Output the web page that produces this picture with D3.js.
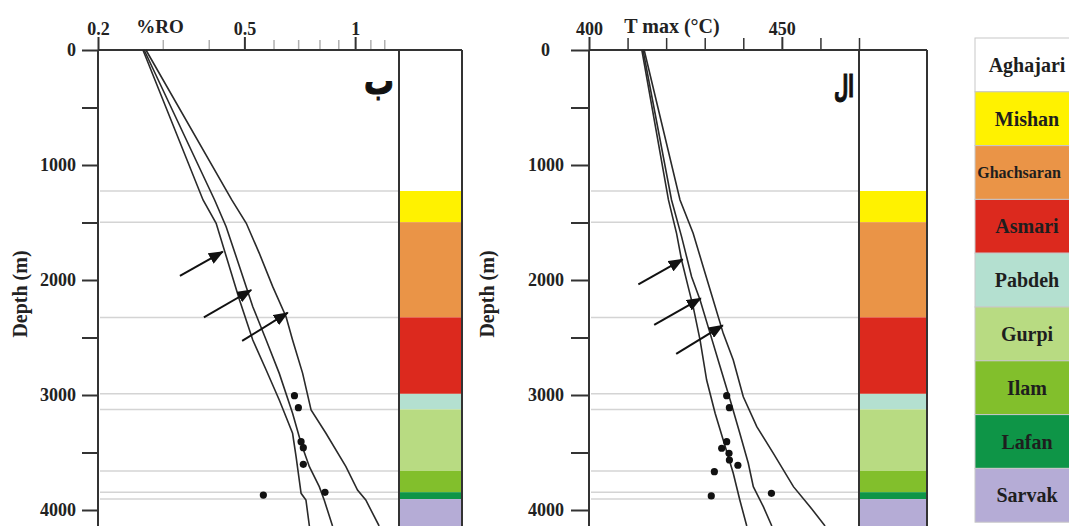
<!DOCTYPE html>
<html>
<head>
<meta charset="utf-8">
<script src="https://cdn.jsdelivr.net/npm/d3@7"></script>
<style>
    body { margin: 0; background: #fff; }
    svg { display: block; }
</style>
</head>
<body>
<svg id="chart" width="1069" height="526"></svg>
<script>

// depth axis
const depthTicks = [0, 500, 1000, 1500, 2000, 2500, 3000, 3500, 4000];
const depthLabels = [0, 1000, 2000, 3000, 4000];

// formations (top depth in m)
const formations = ["Aghajari", "Mishan", "Ghachsaran", "Asmari", "Pabdeh", "Gurpi", "Ilam", "Lafan", "Sarvak"];
const formationTops = [0, 1226, 1497, 2325, 2990, 3125, 3660, 3845, 3905];
const formationColors = ["#ffffff", "#fff200", "#ea9447", "#dc291e", "#b4e0d0", "#b8db82", "#82bf2c", "#0e9547", "#b5acd6"];

// %RO panel
const roMajorTicks = [0.2, 0.5, 1];
const roMinorTicks = [0.3, 0.4, 0.6, 0.7, 0.8, 0.9, 1.1, 1.2];

const roMinDepth = [0, 1304, 1507, 2174, 2522, 2783, 3043, 3333, 3536, 3855, 3913, 4139];
const roMin      = [0.265, 0.386, 0.419, 0.485, 0.527, 0.573, 0.622, 0.676, 0.691, 0.713, 0.735, 0.751];
const roMidDepth = [0, 1304, 1537, 1884, 2232, 2522, 2812, 3159, 3420, 3623, 3797, 3913, 4139];
const roMid      = [0.267, 0.415, 0.446, 0.485, 0.527, 0.573, 0.622, 0.676, 0.713, 0.751, 0.799, 0.824, 0.868];
const roMaxDepth = [0, 1304, 1507, 1768, 2058, 2319, 2522, 2812, 3130, 3333, 3623, 3826, 3913, 4139];
const roMax      = [0.270, 0.462, 0.506, 0.549, 0.597, 0.649, 0.676, 0.720, 0.759, 0.833, 0.944, 1.015, 1.069, 1.162];

const roSampleDepth = [3006, 3110, 3406, 3458, 3603, 3870, 3846];
const roSample      = [0.684, 0.701, 0.713, 0.723, 0.723, 0.563, 0.828];

// arrows: [depth, value]
const roArrowFrom = [[1965, 0.334], [2324, 0.388], [2530, 0.493]];
const roArrowTo   = [[1754, 0.437], [2087, 0.522], [2284, 0.656]];

// Tmax panel
const tmaxMajorTicks = [400, 450];
const tmaxMinorTicks = [410, 420, 430, 440, 460, 470];

const tmaxMinDepth = [0, 1304, 1594, 1826, 2058, 2232, 2522, 2870, 3159, 3391, 3681, 3913, 4139];
const tmaxMin      = [413.7, 420.6, 422.7, 424.0, 425.7, 427.0, 428.8, 430.5, 432.7, 434.8, 437.4, 439.1, 440.9];
const tmaxMidDepth = [0, 1304, 1623, 1971, 2174, 2464, 2754, 3043, 3333, 3594, 3797, 3971, 4139];
const tmaxMid      = [414.0, 421.4, 424.0, 426.6, 428.8, 431.4, 434.0, 436.6, 439.1, 441.3, 442.6, 445.2, 447.4];
const tmaxMaxDepth = [0, 1304, 1594, 1884, 2174, 2464, 2696, 3015, 3275, 3507, 3797, 3971, 4139];
const tmaxMax      = [414.3, 423.6, 427.0, 429.6, 432.2, 434.8, 437.4, 440.0, 443.5, 447.8, 453.0, 457.3, 461.2];

const tmaxSampleDepth = [3006, 3110, 3406, 3463, 3507, 3565, 3611, 3667, 3878, 3855];
const tmaxSample      = [435.7, 436.4, 435.7, 434.4, 436.3, 436.4, 438.6, 432.5, 431.7, 447.3];

const tmaxArrowFrom = [[2037, 412.8], [2391, 416.9], [2643, 422.6]];
const tmaxArrowTo   = [[1820, 424.3], [2159, 429.0], [2394, 434.7]];


const svg = d3.select("#chart");
const serif = "'Liberation Serif', 'Times New Roman', serif";
const ink = "#222";
const depthBottom = 4200;   // picture is cut off below 4000

const y = d3.scaleLinear().domain([0, 4000]).range([50, 510]);

// arrowhead
svg.append("defs").append("marker")
    .attr("id", "head")
    .attr("markerUnits", "userSpaceOnUse")
    .attr("viewBox", "0 0 15 12")
    .attr("markerWidth", 15)
    .attr("markerHeight", 12)
    .attr("refX", 14)
    .attr("refY", 6)
    .attr("orient", "auto")
    .append("path")
        .attr("d", "M0,0 L15,6 L0,12 Z")
        .attr("fill", "#111");


function zip(depths, vals) {
    return depths.map((d, i) => [d, vals[i]]);
}


function drawPanel(p) {
    const x = p.x;
    const [x0, x1] = x.range();
    const x2 = x1 + p.colWidth;
    const g = svg.append("g");

    // formation column
    const bottoms = formationTops.slice(1).concat([depthBottom]);
    g.selectAll(".col")
        .data(formations)
        .join("rect")
            .attr("x", x1)
            .attr("width", p.colWidth)
            .attr("y", (d, i) => y(formationTops[i]))
            .attr("height", (d, i) => y(bottoms[i]) - y(formationTops[i]))
            .attr("fill", (d, i) => formationColors[i]);

    // grey boundary lines through the plot
    g.selectAll(".bound")
        .data(formationTops.slice(1))
        .join("line")
            .attr("x1", x0 + 2)
            .attr("x2", x1)
            .attr("y1", d => y(d))
            .attr("y2", d => y(d))
            .attr("stroke", "#d4d4d4")
            .attr("stroke-width", 1.5);

    // y axis
    const yAxis = d3.axisLeft(y)
        .tickValues(depthTicks)
        .tickSize(p.yTickSize)
        .tickPadding(p.yTickPad)
        .tickFormat(d => depthLabels.includes(d) ? d : "");
    const ya = g.append("g")
        .attr("transform", `translate(${x0},0)`)
        .call(yAxis)
        .attr("font-family", serif)
        .attr("font-size", 18)
        .attr("font-weight", "bold");
    ya.select(".domain").remove();
    ya.selectAll("line").attr("stroke", "#333").attr("stroke-width", 2);
    ya.selectAll("text").attr("fill", ink);
    ya.selectAll(".tick").filter(d => d === 0).select("text").attr("dx", p.zeroShift);

    // top axis, minor ticks first
    const minor = g.append("g")
        .attr("transform", "translate(0,50)")
        .call(d3.axisTop(x).tickValues(p.minorTicks).tickSize(p.minorSize).tickFormat(""));
    minor.select(".domain").remove();
    minor.selectAll("line").attr("stroke", p.minorColor).attr("stroke-width", 1.5);

    const major = g.append("g")
        .attr("transform", "translate(0,50)")
        .call(d3.axisTop(x).tickValues(p.majorTicks).tickSize(13).tickPadding(2).tickFormat(d => d))
        .attr("font-family", serif)
        .attr("font-size", 18)
        .attr("font-weight", "bold");
    major.select(".domain").remove();
    major.selectAll("line").attr("stroke", "#333").attr("stroke-width", 2);
    major.selectAll("text").attr("fill", ink);

    // frame
    const frame = [
        [x0, 50, x2, 50],
        [x0, 50, x0, 530],
        [x1, 50, x1, 530],
        [x2, 50, x2, 530]
    ];
    g.selectAll(".frame")
        .data(frame)
        .join("line")
            .attr("x1", d => d[0]).attr("y1", d => d[1])
            .attr("x2", d => d[2]).attr("y2", d => d[3])
            .attr("stroke", "#333")
            .attr("stroke-width", 2);

    // curves
    const line = d3.line()
        .x(d => x(d[1]))
        .y(d => y(d[0]));

    g.selectAll(".curve")
        .data(p.curves)
        .join("path")
            .attr("d", line)
            .attr("fill", "none")
            .attr("stroke", "#2a2a2a")
            .attr("stroke-width", 1.6);

    // measured samples
    g.selectAll(".dot")
        .data(p.samples)
        .join("circle")
            .attr("cx", d => x(d[1]))
            .attr("cy", d => y(d[0]))
            .attr("r", 3.6)
            .attr("fill", "#111");

    // arrows pointing at the curves
    g.selectAll(".arrow")
        .data(p.arrowFrom)
        .join("line")
            .attr("x1", d => x(d[1]))
            .attr("y1", d => y(d[0]))
            .attr("x2", (d, i) => x(p.arrowTo[i][1]))
            .attr("y2", (d, i) => y(p.arrowTo[i][0]))
            .attr("stroke", "#111")
            .attr("stroke-width", 2)
            .attr("marker-end", "url(#head)");

    // titles
    g.append("text")
        .attr("x", p.titleX)
        .attr("y", 33)
        .attr("text-anchor", "middle")
        .attr("font-family", serif)
        .attr("font-weight", "bold")
        .attr("font-size", p.titleSize)
        .attr("fill", ink)
        .text(p.title);

    g.append("text")
        .attr("transform", `translate(${p.depthX},294) rotate(-90)`)
        .attr("text-anchor", "middle")
        .attr("dy", "0.35em")
        .attr("font-family", serif)
        .attr("font-weight", "bold")
        .attr("font-size", 20)
        .attr("fill", ink)
        .text("Depth (m)");

    // panel letter (Persian), stroked a little so it reads as heavy as the scan
    g.append("text")
        .attr("x", x1 - 5)
        .attr("y", p.letterY)
        .attr("text-anchor", "end")
        .attr("font-family", "'DejaVu Sans', sans-serif")
        .attr("font-weight", "bold")
        .attr("font-size", p.letterSize)
        .attr("textLength", p.letterWidth)
        .attr("lengthAdjust", "spacingAndGlyphs")
        .attr("fill", "#111")
        .attr("stroke", "#111")
        .attr("stroke-width", 1.2)
        .text(p.letter);
}


drawPanel({
    x: d3.scaleLog().domain([0.2, 1.316]).range([98, 399]),
    colWidth: 63,
    majorTicks: roMajorTicks,
    minorTicks: roMinorTicks,
    minorSize: 10,
    minorColor: "#b0b0b0",
    yTickSize: 16,
    yTickPad: 6,
    zeroShift: 0,
    curves: [zip(roMinDepth, roMin), zip(roMidDepth, roMid), zip(roMaxDepth, roMax)],
    samples: zip(roSampleDepth, roSample),
    arrowFrom: roArrowFrom,
    arrowTo: roArrowTo,
    title: "%RO",
    titleX: 160,
    titleSize: 19,
    depthX: 20,
    letter: "ب",
    letterSize: 38,
    letterY: 94,
    letterWidth: 30
});

drawPanel({
    x: d3.scaleLinear().domain([400, 470]).range([589, 859]),
    colWidth: 68,
    majorTicks: tmaxMajorTicks,
    minorTicks: tmaxMinorTicks,
    minorSize: 12,
    minorColor: "#333",
    yTickSize: 18,
    yTickPad: 7,
    zeroShift: -14,
    curves: [zip(tmaxMinDepth, tmaxMin), zip(tmaxMidDepth, tmaxMid), zip(tmaxMaxDepth, tmaxMax)],
    samples: zip(tmaxSampleDepth, tmaxSample),
    arrowFrom: tmaxArrowFrom,
    arrowTo: tmaxArrowTo,
    title: "T max (°C)",
    titleX: 672,
    titleSize: 20,
    depthX: 487,
    letter: "ال",
    letterSize: 30,
    letterY: 97,
    letterWidth: 20
});


// legend
const legendTop = 38, legendRow = 53.8;
const legendX = 975, legendW = 104;
const legend = svg.append("g");

legend.selectAll("rect")
    .data(formations)
    .join("rect")
        .attr("x", legendX)
        .attr("y", (d, i) => legendTop + i * legendRow)
        .attr("width", legendW)
        .attr("height", legendRow)
        .attr("fill", (d, i) => formationColors[i])
        .attr("stroke", "#c8c8c8")
        .attr("stroke-width", 1);

legend.selectAll("text")
    .data(formations)
    .join("text")
        .attr("x", 1027)
        .attr("y", (d, i) => legendTop + (i + 0.5) * legendRow)
        .attr("dy", "0.35em")
        .attr("text-anchor", "middle")
        .attr("font-family", serif)
        .attr("font-weight", "bold")
        .attr("font-size", 20)
        .attr("fill", "#1e1e1e")
        .text(d => d)
        .each(function() {
            // long names would run off the page, shrink them to fit
            const w = this.getComputedTextLength();
            if (w > 86) {
                d3.select(this)
                    .attr("x", 1019)
                    .attr("font-size", Math.floor(20 * 86 / w));
            }
        });

</script>
</body>
</html>
